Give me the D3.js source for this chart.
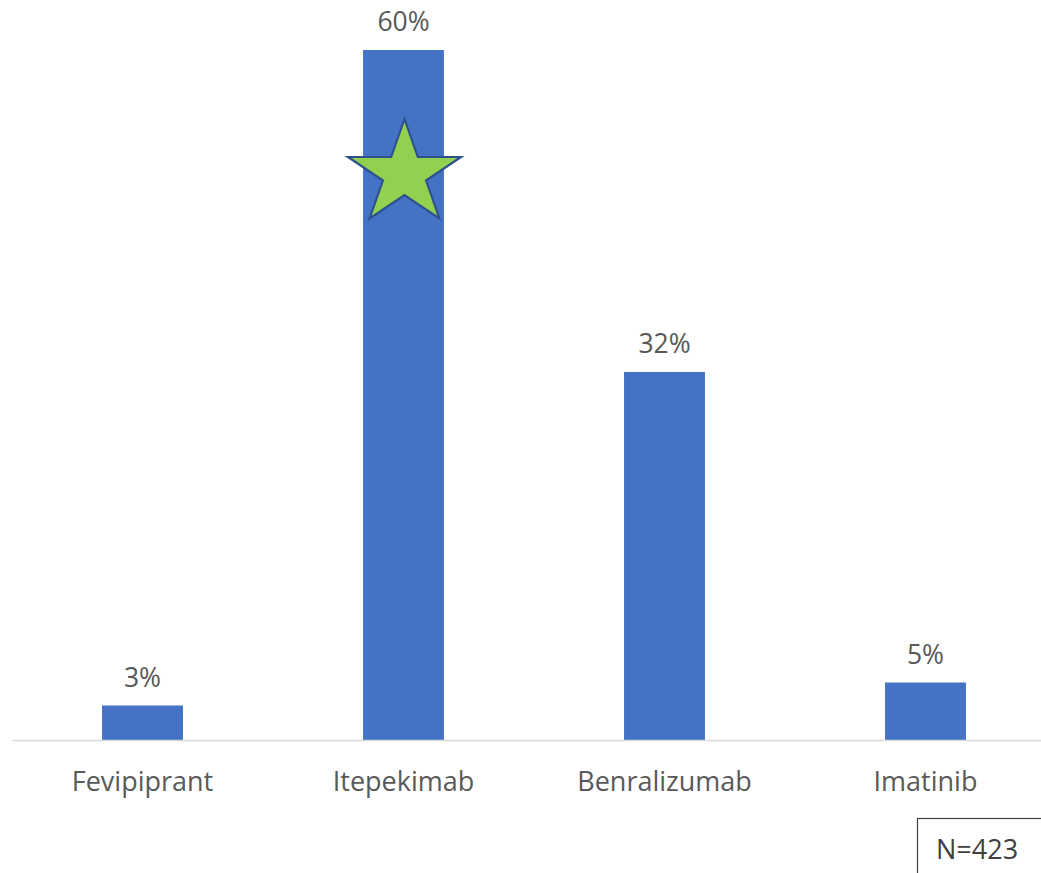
<!DOCTYPE html>
<html>
<head>
<meta charset="utf-8">
<script src="https://cdn.jsdelivr.net/npm/d3@7/dist/d3.min.js"></script>
<style>
  html, body { margin: 0; padding: 0; background: #fff; }
  svg { display: block; }
  text { font-family: "Open Sans", "Noto Sans", sans-serif; fill: #595959; }
</style>
</head>
<body>
<script>
// Share of respondents choosing each drug
const categories = ["Fevipiprant", "Itepekimab", "Benralizumab", "Imatinib"];
const values = [3, 60, 32, 5];
const highlighted = ["Itepekimab"];
const sampleNote = "N=423";

const W = 1041, H = 873;
const margin = { left: 12, right: 0, top: 50, bottom: 133 };
const baseY = H - margin.bottom;

const svg = d3.select("body").append("svg").attr("width", W).attr("height", H);

const x = d3.scaleBand().domain(categories).range([12, 1056]).paddingInner(0.69).paddingOuter(0.345);
const y = d3.scaleLinear().domain([0, 60]).range([baseY, margin.top]);

// bars
svg.selectAll("rect.bar").data(categories).join("rect")
  .attr("class", "bar")
  .attr("x", d => x(d))
  .attr("width", x.bandwidth())
  .attr("y", (d, i) => y(values[i]))
  .attr("height", (d, i) => baseY - y(values[i]))
  .attr("fill", "#4472C4");

// baseline
svg.append("line").attr("x1", 12).attr("x2", W).attr("y1", baseY + 0.5).attr("y2", baseY + 0.5)
  .attr("stroke", "#D9D9D9").attr("stroke-width", 1.3);

// value labels
svg.selectAll("text.val").data(categories).join("text")
  .attr("class", "val")
  .attr("x", d => x(d) + x.bandwidth() / 2)
  .attr("y", (d, i) => y(values[i]) - 19)
  .attr("text-anchor", "middle")
  .attr("font-size", 26.5)
  .text((d, i) => values[i] + "%");

// category axis labels
const xAxis = d3.axisBottom(x).tickSize(0).tickPadding(0);
const gx = svg.append("g").attr("transform", `translate(0,${baseY})`).call(xAxis);
gx.select(".domain").remove();
gx.selectAll("text")
  .attr("y", 51)
  .attr("dy", 0)
  .attr("font-size", 27)
  .style("font-family", '"Open Sans", "Noto Sans", sans-serif')
  .attr("fill", "#595959");

// star marker on highlighted bar
const starPts = [];
const R = 55, r = R * 0.382;
for (let k = 0; k < 10; k++) {
  const a = -Math.PI / 2 + k * Math.PI / 5;
  const rad = k % 2 === 0 ? R : r;
  starPts.push([Math.cos(a) * rad * 1.08, Math.sin(a) * rad]);
}
highlighted.forEach(c => {
  const i = categories.indexOf(c);
  svg.append("path")
    .attr("d", d3.line()(starPts) + "Z")
    .attr("transform", `translate(${x(c) + x.bandwidth() / 2 + 1},${y(values[i]) + 124})`)
    .attr("fill", "#92D050")
    .attr("stroke", "#2F528F")
    .attr("stroke-width", 2.2)
    .attr("stroke-linejoin", "miter");
});

// sample size box
svg.append("rect").attr("x", 917.5).attr("y", 818.5).attr("width", 140).attr("height", 80)
  .attr("fill", "#fff").attr("stroke", "#404040").attr("stroke-width", 1.2);
svg.append("text").attr("x", 936).attr("y", 859).attr("font-size", 27)
  .style("fill", "#404040").text(sampleNote);
</script>
</body>
</html>
